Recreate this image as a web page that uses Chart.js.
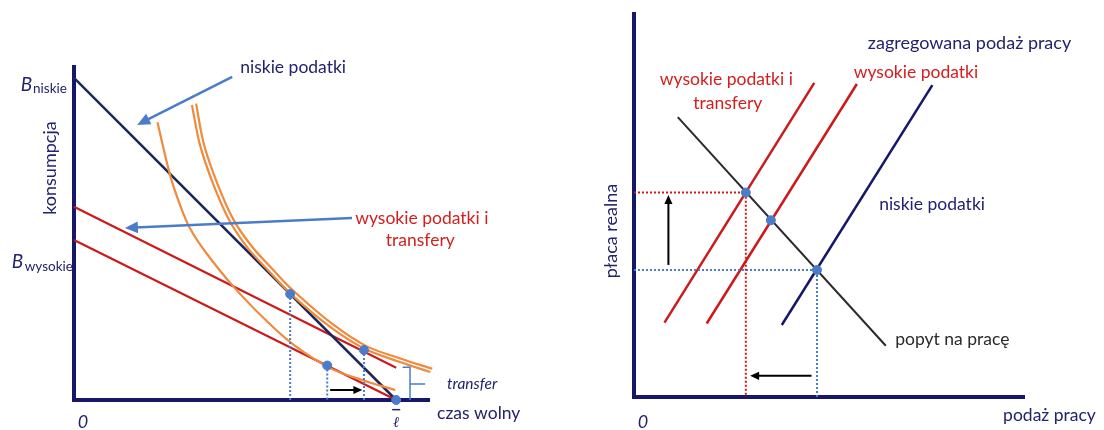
<!DOCTYPE html>
<html>
<head>
<meta charset="utf-8">
<script src="https://cdn.jsdelivr.net/npm/chart.js"></script>
<style>
  html, body { margin: 0; padding: 0; background: #fff; }
  #wrap { position: relative; width: 1104px; height: 430px; }
  canvas { position: absolute; top: 0; }
</style>
</head>
<body>
<div id="wrap">
  <canvas id="leisureChart" width="552" height="430" style="left:0"></canvas>
  <canvas id="laborChart" width="552" height="430" style="left:552px"></canvas>
</div>
<script>
// ---- left panel: konsumpcja vs czas wolny ----
const budgetLow = [[0, 10], [10, 0]];          // niskie podatki
const budgetHigh = [[0, 4.97], [10, 0]];       // wysokie podatki
const budgetTransfer = [[0, 6.0], [10, 1.0]];  // wysokie podatki i transfery
const indiffA = [[2.59, 8.62], [2.98, 6.99], [3.29, 6.06], [3.60, 5.33], [4.07, 4.61], [4.95, 3.52],
                 [5.98, 2.45], [6.81, 1.72], [7.95, 0.99], [8.94, 0.62], [9.97, 0.31]];
const indiffB = [[3.66, 9.16], [3.91, 7.92], [4.33, 6.68], [4.84, 5.54], [5.41, 4.70], [6.09, 3.96],
                 [6.71, 3.31], [7.95, 2.27], [9.04, 1.58], [10.12, 1.18], [11.06, 0.87]];
const indiffC = [[3.79, 9.20], [4.03, 7.95], [4.45, 6.72], [4.95, 5.60], [5.51, 4.78], [6.18, 4.04],
                 [6.80, 3.40], [8.02, 2.36], [9.06, 1.68], [10.15, 1.28], [11.12, 0.97]];
const optimaLeft = [[6.71, 3.29], [7.86, 1.07], [9.0, 1.55]];
const endowment = [[10, 0]];
const leftLabels = {
  low: 'niskie podatki', high1: 'wysokie podatki i', high2: 'transfery',
  yAxis: 'konsumpcja', xAxis: 'czas wolny', transfer: 'transfer',
  bLow: 'niskie', bHigh: 'wysokie', origin: '0'
};
const leftArrows = [[[4.91, 10.03], [1.96, 8.54]], [[8.63, 5.65], [1.58, 5.34]]];
const leftShift = [[7.95, 0.31], [8.95, 0.31]];

// ---- right panel: płaca realna vs podaż pracy ----
const demand = [[1.12, 7.27], [6.44, 1.33]];
const supplyTransfer = [[0.78, 1.93], [4.61, 8.16]];
const supplyHigh = [[1.86, 1.91], [5.70, 8.13]];
const supplyLow = [[3.78, 1.87], [7.63, 8.10]];
const equilibria = [[2.86, 5.31], [3.50, 4.59], [4.68, 3.30]];
const rightLabels = {
  aggregate: 'zagregowana podaż pracy', high: 'wysokie podatki',
  trans1: 'wysokie podatki i', trans2: 'transfery', low: 'niskie podatki',
  demand: 'popyt na pracę', yAxis: 'płaca realna', xAxis: 'podaż pracy', origin: '0'
};
const wageArrow = [[0.88, 3.43], [0.88, 5.25]];
const laborArrow = [[4.54, 0.55], [2.97, 0.55]];

const NAVY = '#16166a', NAVY_TXT = '#22226e', NAVY_LINE = '#1b2858';
const RED = '#cc1a1a', RED_TXT = '#d41e1e', ORANGE = '#f08a3c';
const BLUE = '#4a7cc9', DARK = '#2a2a2a';
const FONT = 'Lato, "Liberation Sans", sans-serif';
const F = '17.5px ' + FONT;

const pts = arr => arr.map(([x, y]) => ({ x, y }));

function line(data, color, width, dash) {
  return { data: pts(data), showLine: true, borderColor: color, borderWidth: width || 2,
           borderDash: dash || [], pointRadius: 0, fill: false, clip: false, tension: 0 };
}
function curve(data, color) {
  return Object.assign(line(data, color, 2.2), { tension: 0.35 });
}
function dots(data) {
  return { data: pts(data), showLine: false, pointRadius: 4.5, pointBackgroundColor: BLUE,
           pointBorderColor: BLUE, clip: false };
}

function text(ctx, s, x, y, font, color, align, rot) {
  ctx.save();
  ctx.font = font;
  ctx.fillStyle = color;
  ctx.textAlign = align || 'left';
  ctx.textBaseline = 'middle';
  ctx.translate(x, y);
  if (rot) ctx.rotate(rot);
  ctx.fillText(s, 0, 0);
  ctx.restore();
}

function arrow(ctx, x1, y1, x2, y2, color, width, head) {
  const a = Math.atan2(y2 - y1, x2 - x1);
  ctx.save();
  ctx.strokeStyle = color; ctx.fillStyle = color; ctx.lineWidth = width;
  ctx.beginPath();
  ctx.moveTo(x1, y1);
  ctx.lineTo(x2 - Math.cos(a) * head * 0.8, y2 - Math.sin(a) * head * 0.8);
  ctx.stroke();
  ctx.beginPath();
  ctx.moveTo(x2, y2);
  ctx.lineTo(x2 - head * Math.cos(a) + head * 0.45 * Math.sin(a), y2 - head * Math.sin(a) - head * 0.45 * Math.cos(a));
  ctx.lineTo(x2 - head * Math.cos(a) - head * 0.45 * Math.sin(a), y2 - head * Math.sin(a) + head * 0.45 * Math.cos(a));
  ctx.closePath();
  ctx.fill();
  ctx.restore();
}

function axesPlugin(id) {
  return {
    id: id + 'Axes',
    beforeDatasetsDraw(chart) {
      const { ctx, chartArea: a } = chart;
      ctx.save();
      ctx.strokeStyle = NAVY; ctx.lineWidth = 4;
      ctx.beginPath();
      ctx.moveTo(a.left, a.top); ctx.lineTo(a.left, a.bottom); ctx.lineTo(a.right, a.bottom);
      ctx.stroke();
      ctx.restore();
    }
  };
}

const baseOptions = (xmax, ymax, pad) => ({
  responsive: false,
  animation: false,
  layout: { padding: pad },
  plugins: { legend: { display: false }, tooltip: { enabled: false } },
  scales: {
    x: { type: 'linear', min: 0, max: xmax, display: false },
    y: { type: 'linear', min: 0, max: ymax, display: false }
  }
});

// ---------- left chart ----------
const leftOverlay = {
  id: 'leftOverlay',
  afterDatasetsDraw(chart) {
    const { ctx, scales: { x, y } } = chart;
    const X = v => x.getPixelForValue(v), Y = v => y.getPixelForValue(v);
    const L = leftLabels;
    leftArrows.forEach(([p, q]) => arrow(ctx, X(p[0]), Y(p[1]), X(q[0]), Y(q[1]), BLUE, 2.5, 13));
    arrow(ctx, X(leftShift[0][0]), Y(leftShift[0][1]), X(leftShift[1][0]), Y(leftShift[1][1]), '#000', 2, 9);

    // transfer brace
    ctx.save();
    ctx.strokeStyle = BLUE; ctx.lineWidth = 1.5;
    ctx.beginPath();
    ctx.moveTo(X(10.2), Y(1.02)); ctx.lineTo(X(10.43), Y(1.02));
    ctx.lineTo(X(10.43), Y(0));
    ctx.moveTo(X(10.43), Y(0.5)); ctx.lineTo(X(10.9), Y(0.5));
    ctx.stroke();
    ctx.restore();

    text(ctx, L.low, X(5.16), Y(10.34), F, NAVY_TXT);
    text(ctx, L.high1, X(8.73), Y(5.65), F, RED_TXT);
    text(ctx, L.high2, X(10.75), Y(4.97), F, RED_TXT, 'center');
    text(ctx, L.transfer, X(11.58), Y(0.50), 'italic 15.5px ' + FONT, NAVY_TXT);
    text(ctx, L.xAxis, X(11.27), Y(-0.40), F, NAVY_TXT);
    text(ctx, L.origin, X(0.28), Y(-0.68), 'italic 18px ' + FONT, NAVY_TXT, 'center');
    text(ctx, L.yAxis, X(-0.75), Y(7.2), '18px ' + FONT, NAVY_TXT, 'center', -Math.PI / 2);
    // B labels with subscripts
    text(ctx, 'B', X(-1.30), Y(9.78), 'italic 19px ' + FONT, NAVY_TXT, 'right');
    text(ctx, L.bLow, X(-1.27), Y(9.68), '13.5px ' + FONT, NAVY_TXT);
    text(ctx, 'B', X(-1.93), Y(4.29), 'italic 19px ' + FONT, NAVY_TXT);
    text(ctx, L.bHigh, X(-1.53), Y(4.13), '13.5px ' + FONT, NAVY_TXT);
    // leisure endowment
    text(ctx, 'ℓ', X(10), Y(-0.72), 'italic 15px "DejaVu Serif", serif', NAVY_TXT, 'center');
    ctx.save();
    ctx.strokeStyle = NAVY_TXT; ctx.lineWidth = 1.5;
    ctx.beginPath(); ctx.moveTo(X(10) - 4, Y(-0.3)); ctx.lineTo(X(10) + 4, Y(-0.3)); ctx.stroke();
    ctx.restore();
  }
};

new Chart(document.getElementById('leisureChart'), {
  type: 'scatter',
  data: {
    datasets: [
      dots(optimaLeft.concat(endowment)),
      ...optimaLeft.map(([px, py]) => line([[px, py], [px, 0]], BLUE, 2, [2, 2])),
      curve(indiffA, ORANGE),
      curve(indiffB, ORANGE),
      curve(indiffC, ORANGE),
      line(budgetLow, NAVY_LINE, 2.5),
      line(budgetTransfer, RED, 2.2),
      line(budgetHigh, RED, 2.2)
    ]
  },
  options: baseOptions(11.05, 10.4, { left: 74, top: 65, right: 122, bottom: 30 }),
  plugins: [axesPlugin('left'), leftOverlay]
});

// ---------- right chart ----------
const rightOverlay = {
  id: 'rightOverlay',
  afterDatasetsDraw(chart) {
    const { ctx, scales: { x, y } } = chart;
    const X = v => x.getPixelForValue(v), Y = v => y.getPixelForValue(v);
    const R = rightLabels;
    arrow(ctx, X(wageArrow[0][0]), Y(wageArrow[0][1]), X(wageArrow[1][0]), Y(wageArrow[1][1]), '#000', 2, 9);
    arrow(ctx, X(laborArrow[0][0]), Y(laborArrow[0][1]), X(laborArrow[1][0]), Y(laborArrow[1][1]), '#000', 2, 9);

    text(ctx, R.aggregate, X(5.98), Y(9.19), '18px ' + FONT, NAVY_TXT);
    text(ctx, R.high, X(5.62), Y(8.44), F, RED_TXT);
    text(ctx, R.trans1, X(0.66), Y(8.26), F, RED_TXT);
    text(ctx, R.trans2, X(2.40), Y(7.64), F, RED_TXT, 'center');
    text(ctx, R.low, X(6.27), Y(5.01), F, NAVY_TXT);
    text(ctx, R.demand, X(6.68), Y(1.51), F, DARK);
    text(ctx, R.yAxis, X(-0.59), Y(4.31), '18px ' + FONT, NAVY_TXT, 'center', -Math.PI / 2);
    text(ctx, R.xAxis, X(9.44), Y(-0.47), F, NAVY_TXT);
    text(ctx, R.origin, X(0.23), Y(-0.65), 'italic 18px ' + FONT, NAVY_TXT, 'center');
  }
};

const [eqT, , eqL] = equilibria;
new Chart(document.getElementById('laborChart'), {
  type: 'scatter',
  data: {
    datasets: [
      dots(equilibria),
      line(demand, DARK, 2),
      line([[0, eqT[1]], eqT, [eqT[0], 0]], RED, 2, [2, 2]),
      line([[0, eqL[1]], eqL, [eqL[0], 0]], BLUE, 2, [2, 2]),
      line(supplyTransfer, RED, 2.5),
      line(supplyHigh, RED, 2.5),
      line(supplyLow, NAVY, 2.5)
    ]
  },
  options: baseOptions(10, 10, { left: 82, top: 12, right: 79, bottom: 33 }),
  plugins: [axesPlugin('right'), rightOverlay]
});
</script>
</body>
</html>
